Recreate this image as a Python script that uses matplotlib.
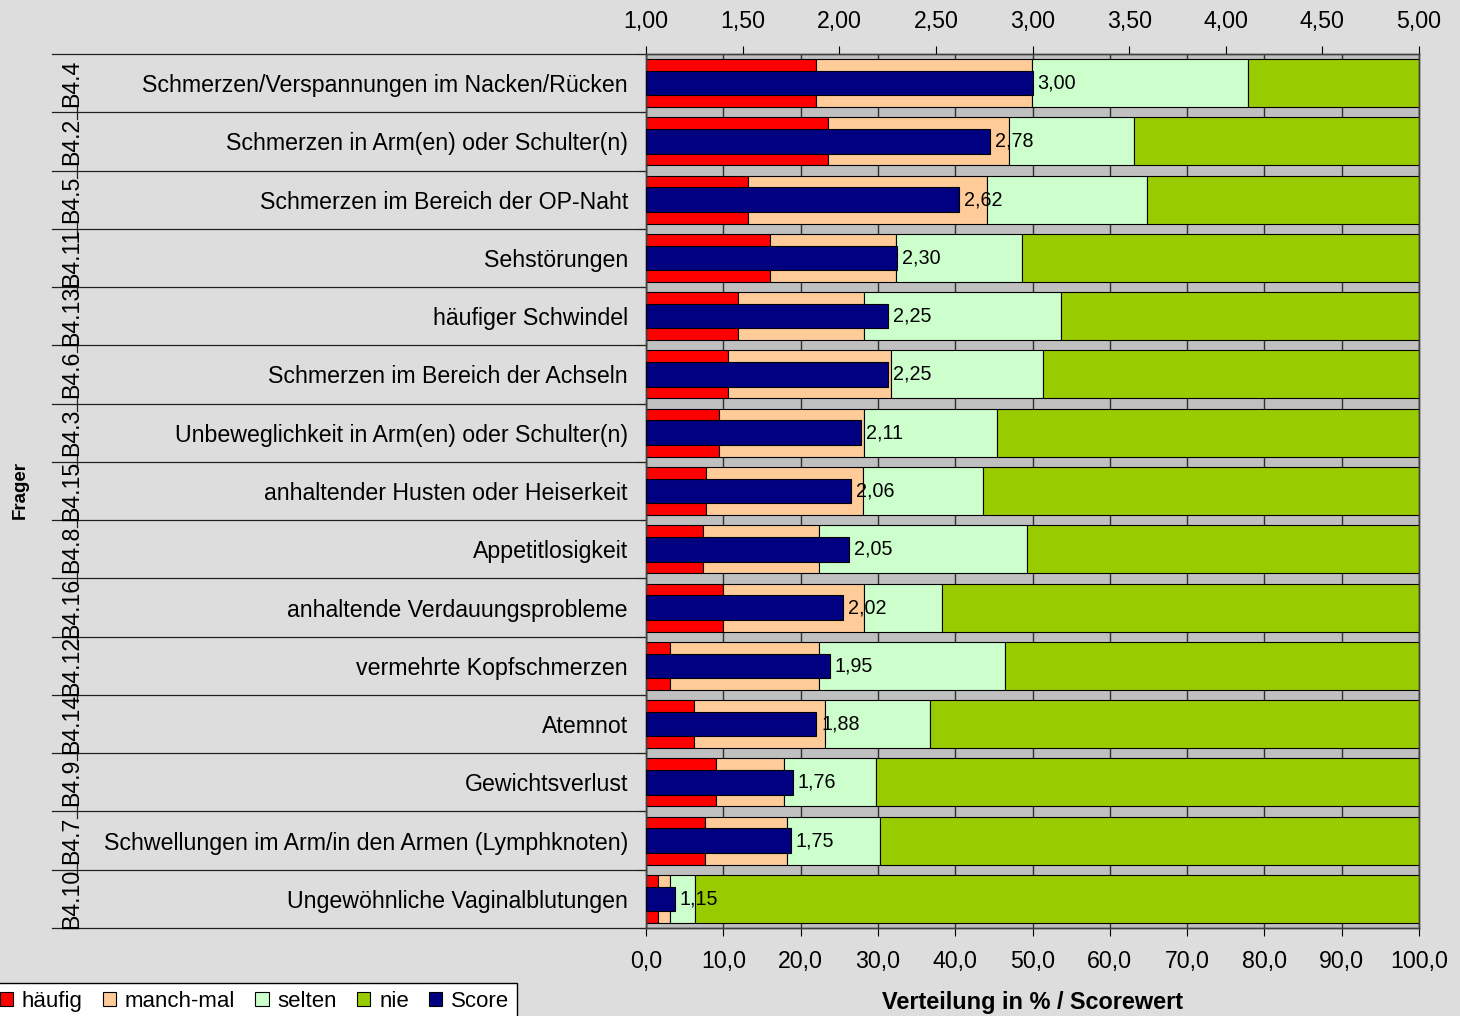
import numpy as np
import matplotlib
matplotlib.use("Agg")
import matplotlib.pyplot as plt

plt.rcParams['font.family'] = ['Liberation Sans', 'DejaVu Sans']

# ---- data (top to bottom) ----
codes = ["B4.4", "B4.2", "B4.5", "B4.11", "B4.13", "B4.6", "B4.3", "B4.15",
         "B4.8", "B4.16", "B4.12", "B4.14", "B4.9", "B4.7", "B4.10"]
names = ["Schmerzen/Verspannungen im Nacken/Rücken",
         "Schmerzen in Arm(en) oder Schulter(n)",
         "Schmerzen im Bereich der OP-Naht",
         "Sehstörungen",
         "häufiger Schwindel",
         "Schmerzen im Bereich der Achseln",
         "Unbeweglichkeit in Arm(en) oder Schulter(n)",
         "anhaltender Husten oder Heiserkeit",
         "Appetitlosigkeit",
         "anhaltende Verdauungsprobleme",
         "vermehrte Kopfschmerzen",
         "Atemnot",
         "Gewichtsverlust",
         "Schwellungen im Arm/in den Armen (Lymphknoten)",
         "Ungewöhnliche Vaginalblutungen"]
haeufig   = [22.0, 23.5, 13.2, 16.1, 11.9, 10.6, 9.4, 7.8, 7.4, 10.0, 3.1, 6.2, 9.1, 7.6, 1.6]
manchmal  = [27.9, 23.5, 30.9, 16.2, 16.3, 21.1, 18.8, 20.3, 15.0, 18.2, 19.3, 17.0, 8.8, 10.6, 1.5]
selten    = [28.0, 16.1, 20.7, 16.3, 25.5, 19.7, 17.2, 15.5, 26.9, 10.1, 24.0, 13.6, 11.9, 12.1, 3.2]
nie       = [22.1, 36.9, 35.2, 51.4, 46.3, 48.6, 54.6, 56.4, 50.7, 61.7, 53.6, 63.2, 70.2, 69.7, 93.7]
score     = [3.00, 2.78, 2.62, 2.30, 2.25, 2.25, 2.11, 2.06, 2.05, 2.02, 1.95, 1.88, 1.76, 1.75, 1.15]
series_names = ["häufig", "manch-mal", "selten", "nie"]
pct_ticks = [0, 10, 20, 30, 40, 50, 60, 70, 80, 90, 100]
score_ticks = [1.0, 1.5, 2.0, 2.5, 3.0, 3.5, 4.0, 4.5, 5.0]

colors = ["#FF0000", "#FFCC99", "#CCFFCC", "#99CC00"]
score_color = "#000080"

W, H = 1460, 1016
def fx(x): return x / W
def fy(y): return 1 - y / H

fig = plt.figure(figsize=(W / 100, H / 100), dpi=100, facecolor="#DDDDDD")
ax = fig.add_axes([fx(646), fy(928), (1419 - 646) / W, (928 - 54) / H])
ax.set_facecolor("#C0C0C0")

n = len(names)
y = np.arange(n)
left = np.zeros(n)
handles = []
for vals, c, lab in zip([haeufig, manchmal, selten, nie], colors, series_names):
    v = np.array(vals)
    b = ax.barh(y, v, left=left, height=0.824, color=c, edgecolor="black",
                linewidth=0.8, zorder=2, label=lab)
    handles.append(b)
    left += v

ax.set_xlim(0, 100)
ax.set_ylim(n - 0.5, -0.5)
ax.set_xticks(pct_ticks)
ax.set_xticklabels([f"{v:.1f}".replace(".", ",") for v in pct_ticks], fontsize=16.7)
ax.xaxis.grid(True, color="#303030", linewidth=1.0)
ax.set_axisbelow(True)
ax.tick_params(axis="x", direction="out", length=5.8, width=0.8, pad=10, colors="black")

ax.set_yticks(y)
ax.set_yticklabels(names, fontsize=16.7)
ax.tick_params(axis="y", which="major", length=0, pad=13)
ax.set_yticks(np.arange(-0.5, n), minor=True)
ax.tick_params(axis="y", which="minor", length=6, direction="out", width=0.8, color="#404040")
for sp in ax.spines.values():
    sp.set_color("#404040")
    sp.set_linewidth(1.0)

# category separators and codes
ytr = ax.get_yaxis_transform()
x_left = (52 - 646) / 773
x_code = (78 - 646) / 773
x_vsep = (77 - 646) / 773
for bnd in np.arange(-0.5, n):
    ax.plot([x_left, 0], [bnd, bnd], transform=ytr, color="#202020", lw=0.9, clip_on=False)
for bnd in np.arange(0.5, n - 1):
    ax.plot([x_vsep, x_vsep], [bnd - 0.12, bnd + 0.12], transform=ytr,
            color="#202020", lw=0.9, clip_on=False)
for yi, c in zip(y, codes):
    ax.text(x_code, yi, c, transform=ytr, rotation=90, rotation_mode="anchor",
            ha="center", va="baseline", fontsize=16.7, color="black")

# score on top axis
ax2 = ax.twiny()
ax2.set_xlim(1, 5)
sc = np.array(score)
sb = ax2.barh(y, sc - 1, left=1, height=0.42, color=score_color, edgecolor="black",
              linewidth=0.8, zorder=3, label="Score")
handles.append(sb)
ax2.set_ylim(n - 0.5, -0.5)
for yi, s in zip(y, sc):
    ax2.annotate(f"{s:.2f}".replace(".", ","), (s, yi), xytext=(3.6, 0),
                 textcoords="offset points", ha="left", va="center", fontsize=14.2, zorder=5)
ax2.set_xticks(score_ticks)
ax2.set_xticklabels([f"{v:.2f}".replace(".", ",") for v in score_ticks], fontsize=16.7)
ax2.tick_params(axis="x", direction="out", length=5.8, width=0.8, pad=9.5, colors="black")
for sp in ax2.spines.values():
    sp.set_color("#404040")
    sp.set_linewidth(1.0)

# axis titles
fig.text(fx(1032.5), fy(1003), "Verteilung in % / Scorewert", ha="center", va="center",
         fontsize=16.9, fontweight="bold")
fig.text(fx(20), fy(490), "Frager", ha="center", va="center", rotation=90,
         fontsize=13.5, fontweight="bold")

leg = fig.legend(handles, series_names + ["Score"], loc="upper left",
                 bbox_to_anchor=(fx(-8), fy(983)), ncol=5, frameon=True, fancybox=False,
                 edgecolor="black", facecolor="white", framealpha=1, fontsize=16.0,
                 handlelength=0.6, handleheight=0.6, handletextpad=0.4,
                 columnspacing=0.9, borderpad=0.34, borderaxespad=0)
leg.get_frame().set_linewidth(1.0)

fig.savefig("out.png", dpi=100, facecolor=fig.get_facecolor())
